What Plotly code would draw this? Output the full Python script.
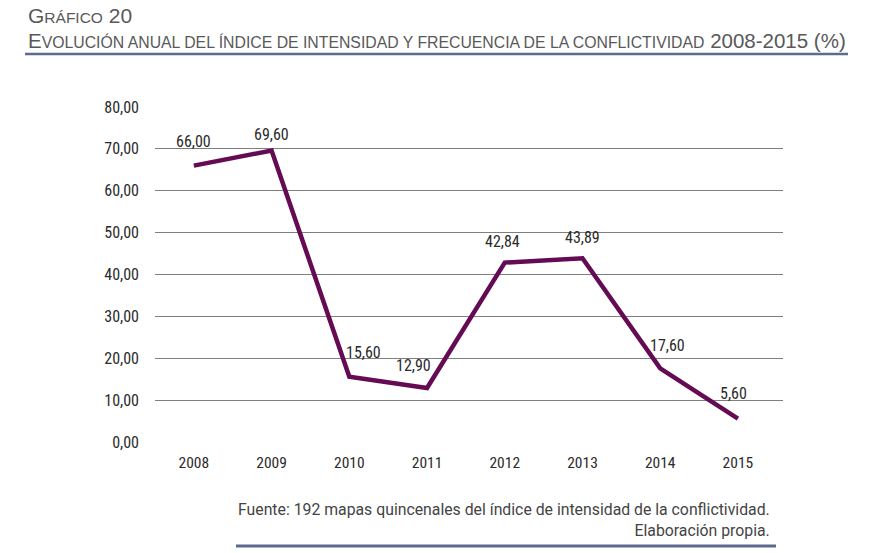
import plotly.graph_objects as go

years = ["2008", "2009", "2010", "2011", "2012", "2013", "2014", "2015"]
values = [66.00, 69.60, 15.60, 12.90, 42.84, 43.89, 17.60, 5.60]
labels = ["66,00", "69,60", "15,60", "12,90", "42,84", "43,89", "17,60", "5,60"]
y_ticks = [0, 10, 20, 30, 40, 50, 60, 70, 80]
y_tick_text = ["0,00", "10,00", "20,00", "30,00", "40,00", "50,00", "60,00", "70,00", "80,00"]

# label placement tweaks (pixels): style only
label_dx = [0, 0, 14, -14, -2, 0, 7, -4]
label_dy = [24, 16, 24, 22, 21, 21, 23, 25]

NARROW = "Liberation Sans Narrow, Roboto Condensed, Arial Narrow, sans-serif"
TITLEF = "Liberation Sans, Arial, sans-serif"
W, H = 879, 553

# plot area in page coords
PX0, PX1, PY0, PY1 = 155, 783, 107, 442
L, R = PX0, W - PX1
T, B = PY0, H - PY1
PW, PH = W - L - R, H - T - B


def px(x):
    return (x - PX0) / PW


def py(y):
    return (PY1 - y) / PH


fig = go.Figure()
fig.add_trace(go.Scatter(
    x=years, y=values, mode="lines",
    line=dict(color="#640b53", width=4.5),
    hoverinfo="skip",
))

for i, (v, lab, dx, dy) in enumerate(zip(values, labels, label_dx, label_dy)):
    fig.add_annotation(x=i, y=v, xref="x", yref="y", text=lab, showarrow=False,
                       xanchor="center", yanchor="middle",
                       xshift=dx, yshift=dy,
                       font=dict(family=NARROW, size=16, color="#2b2b2b"))

fig.update_layout(
    width=W, height=H,
    margin=dict(l=L, r=R, t=T, b=B),
    paper_bgcolor="white", plot_bgcolor="white",
    showlegend=False,
    font=dict(family=NARROW, color="#2b2b2b"),
    xaxis=dict(type="category", showgrid=False, showline=False, zeroline=False,
               tickfont=dict(family=NARROW, size=15.5, color="#2b2b2b"),
               ticks="", ticklabelstandoff=9, range=[-0.5, 7.58]),
    yaxis=dict(range=[0, 80], tickvals=y_ticks, ticktext=y_tick_text,
               showgrid=True, gridcolor="#7f7f7f", gridwidth=1,
               zeroline=False, showline=False, ticks="", ticklabelstandoff=15,
               tickfont=dict(family=NARROW, size=16, color="#2b2b2b")),
)

fig.add_annotation(
    xref="paper", yref="paper", x=px(26), y=py(16),
    xanchor="left", yanchor="middle", showarrow=False,
    text='<span style="font-size:21px">G</span><span style="font-size:15.5px">RÁFICO</span> 20',
    font=dict(family=TITLEF, size=21, color="#595959"),
)
fig.add_annotation(
    xref="paper", yref="paper", x=px(26), y=py(40),
    xanchor="left", yanchor="middle", showarrow=False,
    text='<span style="font-size:20.5px">E</span><span style="font-size:15.8px">VOLUCIÓN ANUAL DEL ÍNDICE DE INTENSIDAD Y FRECUENCIA DE LA CONFLICTIVIDAD</span> 2008-2015 (%)',
    font=dict(family=TITLEF, size=20.5, color="#595959"),
)
fig.add_shape(type="line", xref="paper", yref="paper",
              x0=px(25), x1=px(848), y0=py(54), y1=py(54),
              line=dict(color="#5b6a8e", width=2.5))

fig.add_annotation(
    xref="paper", yref="paper", x=px(772), y=py(520),
    xanchor="right", yanchor="middle", showarrow=False, align="right",
    text="Fuente: 192 mapas quincenales del índice de intensidad de la conflictividad.<br>Elaboración propia.",
    font=dict(family="Roboto, sans-serif", size=15.8, color="#444444"),
)
fig.add_shape(type="line", xref="paper", yref="paper",
              x0=px(236), x1=px(776), y0=py(546), y1=py(546),
              line=dict(color="#5b6a8e", width=3))

fig.write_html("out.html",
               config={"displayModeBar": False, "staticPlot": True},
               post_script="document.body.style.margin='0px';document.body.style.overflow='hidden';")
